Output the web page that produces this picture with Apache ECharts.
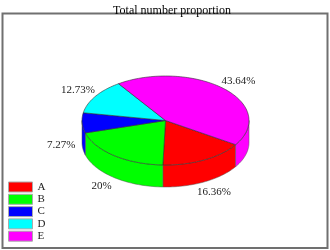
<!DOCTYPE html>
<html>
<head>
<meta charset="utf-8">
<script src="https://cdn.jsdelivr.net/npm/echarts@6/dist/echarts.min.js"></script>
<style>
  html, body { margin: 0; padding: 0; background: #fff; }
  #chart { width: 330px; height: 250px; }
</style>
</head>
<body>
<div id="chart"></div>
<script>
var names = ['A', 'B', 'C', 'D', 'E'];
var values = [9, 11, 4, 7, 24];
var colors = ['#ff0000', '#00ff00', '#0000ff', '#00ffff', '#ff00ff'];

var chartDom = document.getElementById('chart');
var myChart = echarts.init(chartDom);

// ellipse geometry of the fake 3d pie
var cx = 165.5, cy = 120.5, rx = 83.5, ry = 44.5, depth = 22;
var startDeg = 32.9; // screen clockwise from 3 o'clock
var total = values.reduce(function (a, b) { return a + b; }, 0);

function pt(a, dy) {
  return [cx + rx * Math.cos(a), cy + ry * Math.sin(a) + (dy || 0)];
}
function arc(a1, a2, dy) {
  var pts = [];
  var n = Math.max(2, Math.ceil((a2 - a1) / 0.03));
  for (var i = 0; i <= n; i++) {
    pts.push(pt(a1 + (a2 - a1) * i / n, dy));
  }
  return pts;
}

function renderItem(params, api) {
  var idx = params.dataIndex;
  var before = 0;
  for (var i = 0; i < idx; i++) before += values[i];
  var a1 = (startDeg * Math.PI / 180) + before / total * Math.PI * 2;
  var a2 = a1 + api.value(0) / total * Math.PI * 2;
  var color = colors[idx];
  var children = [];

  // side wall, only the front half (sin > 0)
  [[0, Math.PI], [Math.PI * 2, Math.PI * 3]].forEach(function (r) {
    var s = Math.max(a1, r[0]), e = Math.min(a2, r[1]);
    if (e > s) {
      var top = arc(s, e, 0);
      var bottom = arc(s, e, depth).reverse();
      children.push({
        type: 'polygon',
        z2: 0,
        shape: { points: top.concat(bottom) },
        style: { fill: color, stroke: '#555', lineWidth: 0.5 }
      });
    }
  });

  // top sector
  children.push({
    type: 'polygon',
    z2: 1,
    shape: { points: [[cx, cy]].concat(arc(a1, a2, 0)) },
    style: { fill: color, stroke: '#333', lineWidth: 0.6 }
  });

  // percent label
  var mid = (a1 + a2) / 2;
  var lx = cx + rx * 1.25 * Math.cos(mid);
  var ly = cy + ry * 1.25 * Math.sin(mid) + (Math.sin(mid) > 0 ? depth : 0);
  var pct = parseFloat((api.value(0) / total * 100).toFixed(2));
  children.push({
    type: 'text',
    z2: 2,
    x: lx,
    y: ly,
    style: {
      text: pct + '%',
      fill: '#222',
      font: '11px "Liberation Serif"',
      align: 'center',
      verticalAlign: 'middle'
    }
  });

  return { type: 'group', children: children };
}

var option = {
  animation: false,
  color: colors,
  title: {
    text: 'Total number proportion',
    left: 167,
    top: 0,
    textAlign: 'center',
    textStyle: {
      fontFamily: 'Liberation Serif',
      fontWeight: 'normal',
      fontSize: 12,
      color: '#000'
    }
  },
  graphic: [{
    type: 'rect',
    shape: { x: 2.5, y: 13.5, width: 325, height: 234.5 },
    style: { fill: 'none', stroke: '#707070', lineWidth: 2 },
    z: -1
  }],
  legend: {
    orient: 'vertical',
    left: 8,
    top: 181,
    height: 66,
    padding: 0,
    itemWidth: 24,
    itemHeight: 10,
    itemGap: 0.3,
    icon: 'rect',
    selectedMode: false,
    itemStyle: { borderColor: '#aaa', borderWidth: 1 },
    textStyle: {
      fontFamily: 'Liberation Serif',
      fontSize: 11,
      lineHeight: 12,
      color: '#222'
    },
    data: names
  },
  series: [
    {
      // only used to feed the legend
      type: 'pie',
      radius: [0, 0],
      center: [-100, -100],
      silent: true,
      label: { show: false },
      labelLine: { show: false },
      data: names.map(function (n, i) { return { name: n, value: values[i] }; })
    },
    {
      type: 'custom',
      coordinateSystem: 'none',
      renderItem: renderItem,
      data: values.map(function (v) { return [v]; })
    }
  ]
};

myChart.setOption(option);

window.onresize = () => {
  myChart.resize();
}
</script>
</body>
</html>
